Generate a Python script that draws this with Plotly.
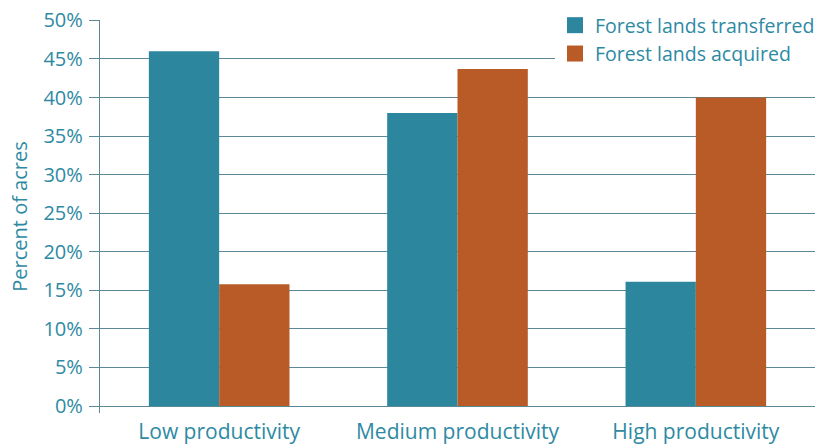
import plotly.graph_objects as go

categories = ["Low productivity", "Medium productivity", "High productivity"]
transferred = [46.0, 38.0, 16.1]
acquired = [15.8, 43.7, 40.0]
series_names = ["Forest lands transferred", "Forest lands acquired"]
tick_vals = [0, 5, 10, 15, 20, 25, 30, 35, 40, 45, 50]
tick_text = ["0%", "5%", "10%", "15%", "20%", "25%", "30%", "35%", "40%", "45%", "50%"]

teal = "#2b869e"
orange = "#b85b27"
text_color = "#2e8aa3"
grid_color = "#5b8797"
font_family = "Open Sans"

fig = go.Figure()
fig.add_trace(go.Bar(x=categories, y=transferred, name=series_names[0],
                     marker=dict(color=teal, line=dict(width=0)), showlegend=False))
fig.add_trace(go.Bar(x=categories, y=acquired, name=series_names[1],
                     marker=dict(color=orange, line=dict(width=0)), showlegend=False))
# legend entries with square markers
fig.add_trace(go.Scatter(x=[None], y=[None], mode="markers", name=series_names[0],
                         marker=dict(symbol="square", size=16, color=teal)))
fig.add_trace(go.Scatter(x=[None], y=[None], mode="markers", name=series_names[1],
                         marker=dict(symbol="square", size=16, color=orange)))

W, H = 820, 445
fig.update_layout(
    width=W, height=H,
    margin=dict(l=100, r=5, t=20, b=32, autoexpand=False),
    paper_bgcolor="white", plot_bgcolor="white",
    barmode="group", bargap=0.41, bargroupgap=0,
    font=dict(family=font_family, color=text_color, size=20),
    legend=dict(xref="container", yref="container", x=828 / W, xanchor="right",
                y=1 - 6 / H, yanchor="top",
                bgcolor="white", font=dict(size=19.5, color=text_color),
                itemsizing="trace", tracegroupgap=0, itemwidth=30),
    xaxis=dict(showline=False, showgrid=False, ticks="", tickfont=dict(size=21),
               range=[-0.5, 2.5], automargin=False, ticklabelstandoff=4),
    yaxis=dict(range=[-0.9, 50.05], tickvals=tick_vals, ticktext=tick_text,
               showgrid=True, gridcolor=grid_color, gridwidth=1.3,
               zeroline=False, showline=True, linecolor=grid_color, linewidth=1.3,
               ticks="outside", ticklen=10, tickcolor=grid_color, tickwidth=1.3,
               tickfont=dict(size=20), automargin=False, ticklabelstandoff=2,
               ticklabeloverflow="allow",
               title=dict(text="Percent of acres", font=dict(size=20), standoff=10)),
)

fig.write_html(
    "out.html",
    config={"displayModeBar": False},
    post_script=(
        "document.body.style.margin='0';"
        "document.body.style.overflow='hidden';"
        "document.documentElement.style.overflow='hidden';"
    ),
)
